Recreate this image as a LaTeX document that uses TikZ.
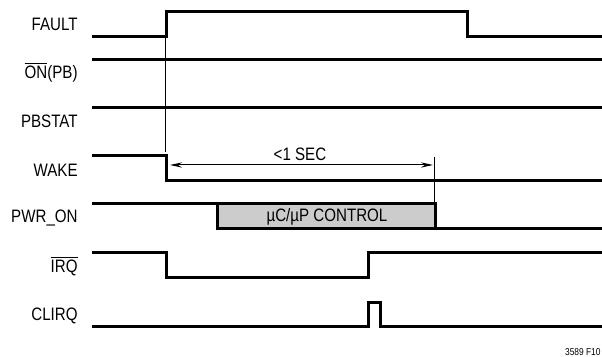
\documentclass[tikz,border=0pt]{standalone}
\usepackage{fontspec}
\setmainfont[FakeStretch=0.84]{Liberation Sans}
\usetikzlibrary{arrows.meta}

\tikzset{
	sig/.style={line width=1.5pt, line join=miter},
	thin/.style={line width=0.5pt},
	lbl/.style={anchor=east, font=\fontsize{9}{10}\selectfont, inner sep=0pt}
}

\begin{document}
\begin{tikzpicture}[x=0.5pt, y=-0.5pt]
	\useasboundingbox (0,0) rectangle (602,357);
	% signal names
	\node [lbl] (fault) at (78,24) {FAULT};
	\node [lbl] (on) at (78,72) {$\overline{\mbox{ON}}$(PB)};
	\node [lbl] (pbstat) at (78,121) {PBSTAT};
	\node [lbl] (wake) at (78,170) {WAKE};
	\node [lbl] (pwron) at (78,218) {PWR\_ON};
	\node [lbl] (irq) at (78,266) {$\overline{\mbox{IRQ}}$};
	\node [lbl] (clirq) at (78,316) {CLIRQ};
	% waveforms
	\draw [sig] (92,37) -- (167,37) -- (167,12) -- (468,12) -- (468,37) -- (602,37);
	\draw [sig] (92,60) -- (602,60);
	\draw [sig] (92,108) -- (602,108);
	\draw [sig] (92,156) -- (167,156) -- (167,181) -- (602,181);
	\filldraw [sig, fill=black!20] (218,229) -- (218,204) -- (436,204) -- (436,229) -- cycle;
	\draw [sig] (92,204) -- (218,204);
	\draw [sig] (436,229) -- (602,229);
	\node [font=\fontsize{9}{10}\selectfont, inner sep=0pt] (ctrl) at (327,216.5) {µC/µP CONTROL};
	\draw [sig] (92,253) -- (167,253) -- (167,278) -- (369,278) -- (369,253) -- (602,253);
	\draw [sig] (92,327) -- (369,327) -- (369,303) -- (381,303) -- (381,327) -- (602,327);
	% timing
	\coordinate (t0) at (166,165);
	\coordinate (t1) at (435,165);
	\draw [thin] (166,38) -- (166,152);
	\draw [thin] (435,157) -- (435,203);
	\draw [thin, {Stealth[length=6pt, width=2.6pt]}-{Stealth[length=6pt, width=2.6pt]}] ([xshift=2pt]t0) -- ([xshift=-1pt]t1);
	\node [font=\fontsize{9}{10}\selectfont, inner sep=0pt] (sec) at (300,154) {<1 SEC};
	\node [anchor=east, font=\fontsize{5}{6}\selectfont, inner sep=0pt] (fig) at (601,352) {3589 F10};
\end{tikzpicture}
\end{document}
